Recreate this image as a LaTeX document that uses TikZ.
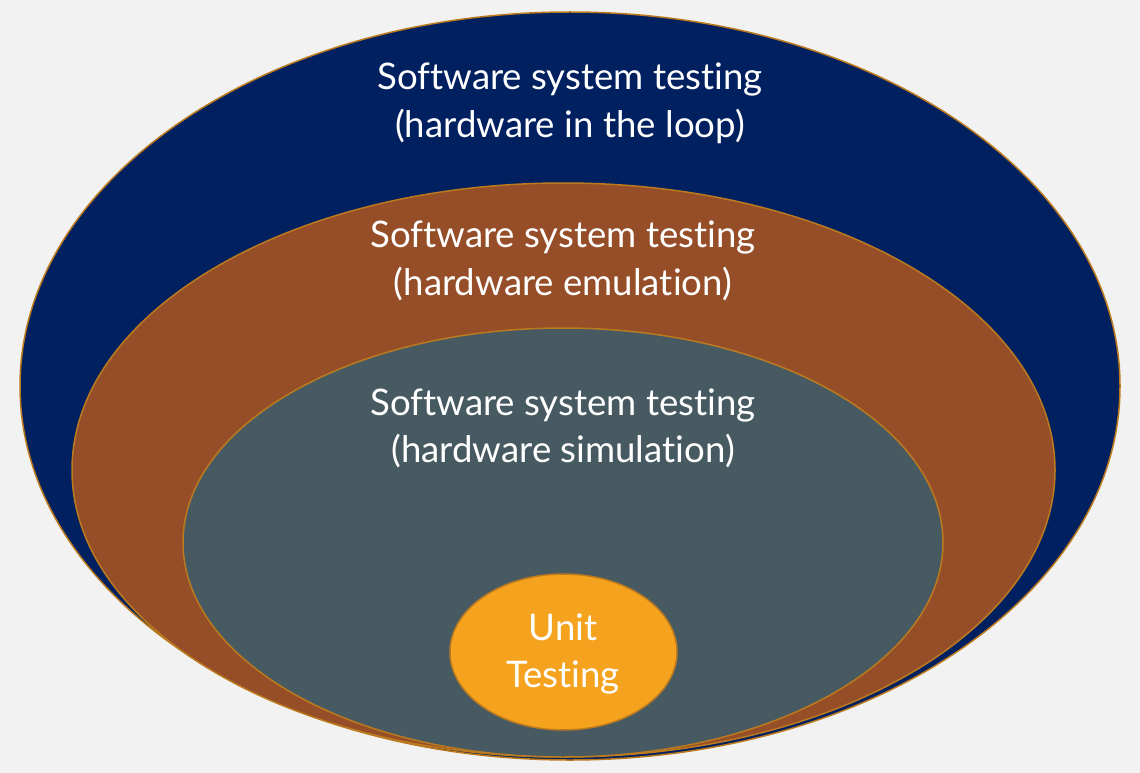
\documentclass[tikz,border=0pt]{standalone}
\usepackage{fontspec}
\setmainfont{Lato}[Ligatures=NoCommon]
\begin{document}
\begin{tikzpicture}[x=1pt,y=-1pt,
  ring/.style={draw=edgegold,line width=1.5pt},
  lbl/.style={text=white,align=center,font=\fontsize{36.6}{47.5}\selectfont,inner sep=0pt}]
\definecolor{bg}{HTML}{F2F2F2}
\definecolor{edgegold}{HTML}{BC7A1E}
\definecolor{navy}{HTML}{002060}
\definecolor{rust}{HTML}{954E28}
\definecolor{slate}{HTML}{475A61}
\definecolor{amber}{HTML}{F5A31E}
\fill[bg] (0,0) rectangle (1140,773);
\useasboundingbox (0,0) rectangle (1140,773);
% nested test levels, outermost first
\path[ring,fill=navy] (570,386) ellipse [x radius=550,y radius=374];
\path[ring,fill=rust] (563.5,470) ellipse [x radius=491.5,y radius=287];
\path[ring,fill=slate] (563,542.5) ellipse [x radius=380,y radius=214.5];
\path[ring,fill=amber] (563.5,652) ellipse [x radius=113.5,y radius=78];
\node[lbl] (hil) at (570,103.5) {Software system testing\\(hardware in the loop)};
\node[lbl] (emu) at (563,261) {Software system testing\\(hardware emulation)};
\node[lbl] (sim) at (563,428.5) {Software system testing\\(hardware simulation)};
\node[lbl] (unit) at (563,654) {Unit\\Testing};
\end{tikzpicture}
\end{document}
